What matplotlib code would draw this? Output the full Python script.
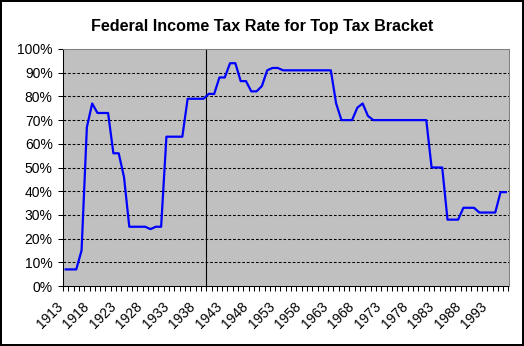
import matplotlib
matplotlib.use('Agg')
import matplotlib.pyplot as plt
from matplotlib.ticker import FixedLocator

plt.rcParams['font.family'] = ['Liberation Sans', 'DejaVu Sans']

years = list(range(1913, 1997))
rates = [7, 7, 7, 15, 67, 77, 73, 73, 73, 56,
         56, 46, 25, 25, 25, 25, 24, 25, 25, 63,
         63, 63, 63, 79, 79, 79, 79, 81.1, 81, 88,
         88, 94, 94, 86.45, 86.45, 82.13, 82.13, 84.36, 91, 92,
         92, 91, 91, 91, 91, 91, 91, 91, 91, 91,
         91, 77, 70, 70, 70, 75.25, 77, 71.75, 70, 70,
         70, 70, 70, 70, 70, 70, 70, 70, 70, 50,
         50, 50, 28, 28, 28, 33, 33, 33, 31, 31,
         31, 31, 39.6, 39.6]
label_years = years[::5]
marker_year = 1939.4  # black vertical line between 1939 and 1940

title = 'Federal Income Tax Rate for Top Tax Bracket'

fig = plt.figure(figsize=(5.24, 3.46), dpi=100)
fig.patch.set_edgecolor('black')
fig.patch.set_linewidth(1.5)
ax = fig.add_axes([63/524, 1-286/346, (508.5-63)/524, (286-49)/346])
ax.set_facecolor('#c0c0c0')

x = [y - years[0] for y in years]
ax.plot(x, rates, color='#0000ff', lw=1.6, zorder=3)
ax.axvline(marker_year - years[0], color='black', lw=0.8, zorder=2)

ax.set_xlim(-0.5, len(years) - 0.5)
ax.set_ylim(0, 100)

for v in range(10, 100, 10):
    ax.axhline(v, color='black', lw=0.75, dashes=(2.6, 1.8), zorder=1)

ax.set_yticks(range(0, 101, 10))
ax.set_yticklabels([f'{v}%' for v in range(0, 101, 10)])
ax.tick_params(axis='y', length=3.6, width=0.75, pad=3.8, labelsize=10)

ax.set_xticks([y - years[0] for y in label_years])
ax.set_xticklabels([str(y) for y in label_years], rotation=45, ha='right', va='top')
ax.xaxis.set_minor_locator(FixedLocator([i - 0.5 for i in range(len(years) + 1)]))
ax.tick_params(axis='x', which='major', length=0, pad=10, labelsize=10)
ax.tick_params(axis='x', which='minor', length=3.6, width=0.75)

for s in ['left', 'bottom']:
    ax.spines[s].set_color('black')
    ax.spines[s].set_linewidth(0.75)
for s in ['top', 'right']:
    ax.spines[s].set_color('#808080')
    ax.spines[s].set_linewidth(0.75)

fig.text(0.5, 1 - 27/346, title, ha='center', va='center', fontsize=11.6, fontweight='bold')

fig.savefig('out.png', dpi=100, edgecolor='black')
